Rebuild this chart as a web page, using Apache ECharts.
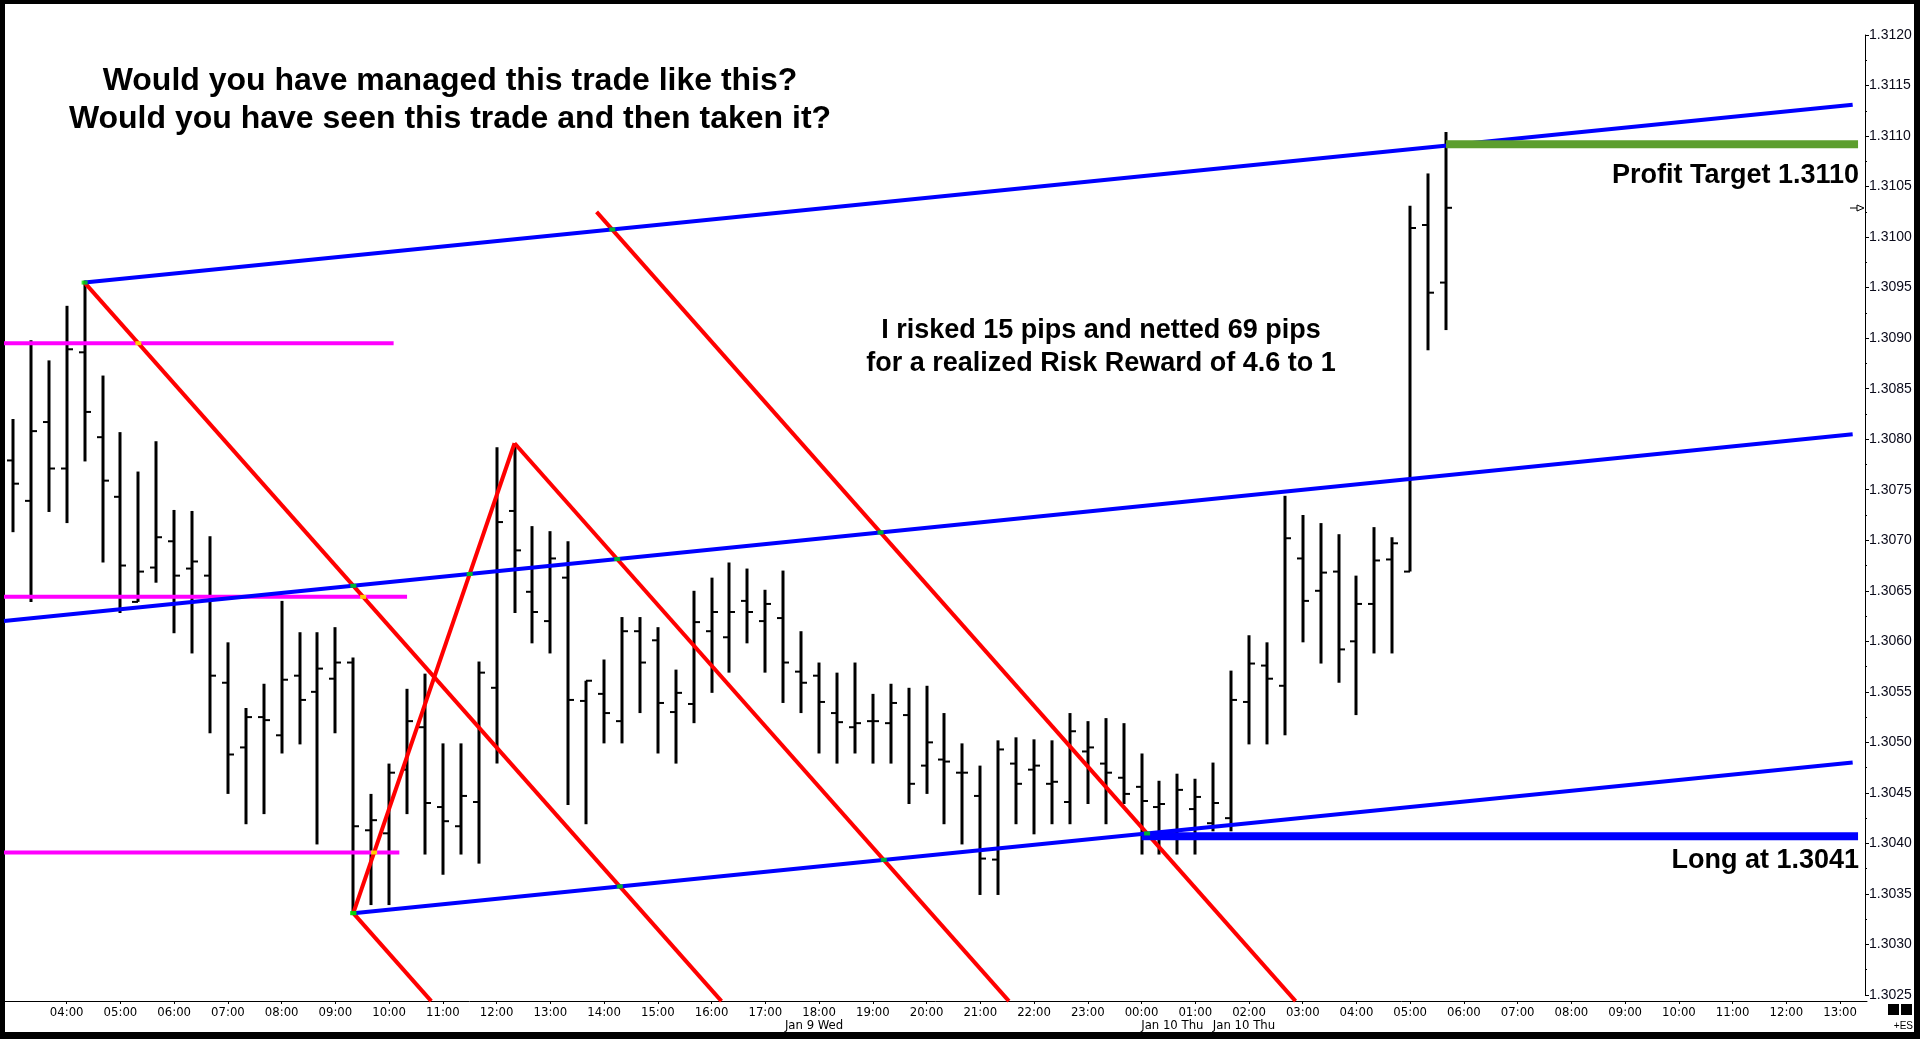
<!DOCTYPE html>
<html>
<head>
<meta charset="utf-8">
<script src="https://cdn.jsdelivr.net/npm/echarts@6/dist/echarts.min.js"></script>
<style>
html,body{margin:0;padding:0;background:#000;overflow:hidden;}
#wrap{position:relative;width:1920px;height:1039px;background:#000;}
#paper{position:absolute;left:5px;top:4px;width:1909px;height:1028px;background:#fff;}
#c{position:absolute;left:0;top:0;width:1920px;height:1039px;}
</style>
</head>
<body>
<div id="wrap"><div id="paper"></div><div id="c"></div></div>
<script>
// ---- categories: 20-minute bars, Jan 9 03:00 .. Jan 10 13:20 ----
const times = ("03:00 03:20 03:40 04:00 04:20 04:40 05:00 05:20 05:40 06:00 06:20 06:40 07:00 07:20 07:40 " +
  "08:00 08:20 08:40 09:00 09:20 09:40 10:00 10:20 10:40 11:00 11:20 11:40 12:00 12:20 12:40 13:00 13:20 13:40 " +
  "14:00 14:20 14:40 15:00 15:20 15:40 16:00 16:20 16:40 17:00 17:20 17:40 18:00 18:20 18:40 19:00 19:20 19:40 " +
  "20:00 20:20 20:40 21:00 21:20 21:40 22:00 22:20 22:40 23:00 23:20 23:40 " +
  "00:00 00:20 00:40 01:00 01:20 01:40 02:00 02:20 02:40 03:00 03:20 03:40 04:00 04:20 04:40 05:00 05:20 05:40 " +
  "06:00 06:20 06:40 07:00 07:20 07:40 08:00 08:20 08:40 09:00 09:20 09:40 10:00 10:20 10:40 11:00 11:20 11:40 " +
  "12:00 12:20 12:40 13:00 13:20").split(' ');
const dateLabelIndex = [45, 65, 69];
const dateLabelText = ['Jan 9 Wed', 'Jan 10 Thu', 'Jan 10 Thu'];

// ---- OHLC values ----
const opens = [1.30779,1.30739,1.30817,1.30771,1.30886,1.30802,1.30743,1.30639,1.30673,1.30699,
  1.30672,1.30665,1.30559,1.30495,1.30525,1.30507,1.30566,1.30550,1.30563,1.30579,
  1.30413,1.30410,1.30473,1.30515,1.30436,1.30417,1.30441,1.30554,1.30729,1.30649,
  1.30620,1.30663,1.30541,1.30548,1.30521,1.30610,1.30601,1.30530,1.30538,1.30610,
  1.30604,1.30640,1.30620,1.30623,1.30570,1.30566,1.30529,1.30515,1.30521,1.30519,
  1.30527,1.30477,1.30483,1.30470,1.30447,1.30384,1.30479,1.30473,1.30459,1.30441,
  1.30491,1.30479,1.30465,1.30456,1.30436,1.30410,1.30434,1.30420,1.30425,1.30540,
  1.30576,1.30556,1.30682,1.30650,1.30669,1.30600,1.30637,1.30681,1.30669,1.31012,1.30955];
const highs = [1.30820,1.30898,1.30878,1.30932,1.30957,1.30863,1.30807,1.30768,1.30798,1.30730,
  1.30729,1.30704,1.30599,1.30534,1.30558,1.30640,1.30609,1.30609,1.30614,1.30584,
  1.30449,1.30479,1.30553,1.30568,1.30499,1.30499,1.30580,1.30792,1.30796,1.30714,
  1.30709,1.30699,1.30561,1.30582,1.30624,1.30624,1.30614,1.30572,1.30650,1.30663,
  1.30678,1.30672,1.30651,1.30670,1.30610,1.30579,1.30569,1.30579,1.30548,1.30558,
  1.30554,1.30556,1.30529,1.30499,1.30477,1.30502,1.30505,1.30503,1.30502,1.30529,
  1.30521,1.30524,1.30519,1.30489,1.30462,1.30469,1.30464,1.30480,1.30571,1.30606,
  1.30599,1.30744,1.30725,1.30717,1.30706,1.30665,1.30713,1.30703,1.31031,1.31063,1.31104];
const lows = [1.30708,1.30639,1.30728,1.30717,1.30778,1.30678,1.30628,1.30639,1.30658,1.30608,
  1.30588,1.30509,1.30449,1.30419,1.30429,1.30489,1.30498,1.30399,1.30509,1.30331,
  1.30339,1.30339,1.30429,1.30389,1.30369,1.30389,1.30380,1.30479,1.30628,1.30598,
  1.30588,1.30438,1.30419,1.30499,1.30499,1.30529,1.30489,1.30479,1.30519,1.30549,
  1.30569,1.30598,1.30569,1.30539,1.30529,1.30489,1.30479,1.30489,1.30479,1.30479,
  1.30439,1.30449,1.30419,1.30399,1.30349,1.30349,1.30419,1.30409,1.30419,1.30419,
  1.30439,1.30419,1.30439,1.30389,1.30389,1.30389,1.30389,1.30412,1.30412,1.30498,
  1.30498,1.30507,1.30599,1.30578,1.30559,1.30527,1.30588,1.30588,1.30669,1.30888,1.30908];
const closes = [1.30756,1.30808,1.30771,1.30889,1.30827,1.30759,1.30675,1.30669,1.30703,1.30665,
  1.30679,1.30566,1.30488,1.30525,1.30522,1.30562,1.30542,1.30573,1.30579,1.30417,
  1.30423,1.30470,1.30521,1.30440,1.30422,1.30447,1.30569,1.30718,1.30690,1.30629,
  1.30682,1.30542,1.30561,1.30529,1.30610,1.30579,1.30539,1.30549,1.30619,1.30629,
  1.30629,1.30629,1.30637,1.30579,1.30559,1.30540,1.30520,1.30519,1.30521,1.30539,
  1.30459,1.30500,1.30481,1.30470,1.30385,1.30493,1.30459,1.30477,1.30461,1.30511,
  1.30495,1.30470,1.30449,1.30442,1.30439,1.30453,1.30446,1.30440,1.30542,1.30578,
  1.30563,1.30702,1.30640,1.30668,1.30592,1.30637,1.30680,1.30697,1.31009,1.30945,1.31029];

// ---- drawn lines: [bar index, price] ----
const channelUpper  = [[4, 1.30955], [102.7, 1.31131]];
const channelMiddle = [[-0.5, 1.30620], [102.7, 1.30805]];
const channelLower  = [[19, 1.30331], [102.7, 1.30480]];
const redA  = [[4, 1.30955], [39.55, 1.30244]];
const redB  = [[28, 1.30796], [55.6, 1.30244]];
const redC  = [[19, 1.30331], [23.35, 1.30244]];
const redD  = [[32.58, 1.31025], [71.6, 1.30244]];
const rally = [[19, 1.30331], [28, 1.30796]];
const magentaHigh = [[-0.5, 1.30895], [21.25, 1.30895]];
const magentaMid  = [[-0.5, 1.30644], [22.0, 1.30644]];
const magentaLow  = [[-0.5, 1.30391], [21.57, 1.30391]];
const entryLine   = [[63, 1.30407], [103, 1.30407]];
const targetLine  = [[80, 1.31092], [103, 1.31092]];

// ---- texts ----
const titleLines = ['Would you have managed this trade like this?', 'Would you have seen this trade and then taken it?'];
const noteLines = ['I risked 15 pips and netted 69 pips', 'for a realized Risk Reward of 4.6 to 1'];
const targetText = 'Profit Target 1.3110';
const entryText = 'Long at 1.3041';

const ohlc = opens.map((o, i) => [i, o, highs[i], lows[i], closes[i]]);
const lastBar = [[ohlc.length - 1, closes[closes.length - 1]]];

// crossing marks where the drawn lines overlap (computed from the segments above)
function crossing(a, b) {
  const [[x1, y1], [x2, y2]] = a, [[x3, y3], [x4, y4]] = b;
  const sx = 1, sy = 10000; // pips scale for a well-conditioned solve
  const ax = x2 - x1, ay = (y2 - y1) * sy, bx = x4 - x3, by = (y4 - y3) * sy;
  const d = ax * by - ay * bx;
  if (Math.abs(d) < 1e-12) return null;
  const cx = x3 - x1, cy = (y3 - y1) * sy;
  const t = (cx * by - cy * bx) / d, u = (cx * ay - cy * ax) / d;
  if (t < 0 || t > 1 || u < 0 || u > 1) return null;
  return [x1 + t * ax * sx, y1 + t * (y2 - y1)];
}
const reds = [redA, redB, redC, redD, rally];
const blues = [channelUpper, channelMiddle, channelLower];
const magentas = [magentaHigh, magentaMid, magentaLow];
const greenMarks = [], yellowMarks = [];
reds.forEach(r => {
  blues.forEach(b => { const p = crossing(r, b); if (p) greenMarks.push(p); });
  magentas.forEach(m => { const p = crossing(r, m); if (p) yellowMarks.push(p); });
});

const SANS = '"Liberation Sans", Arial, sans-serif';
const NARROW = '"Liberation Sans Narrow", "Arial Narrow", "DejaVu Sans Condensed", sans-serif';

function lineSeries(data, color, width, z) {
  return {
    type: 'line', xAxisIndex: 2, yAxisIndex: 0, data: data,
    symbol: 'none', clip: false, silent: true, z: z || 5,
    lineStyle: { color: color, width: width, cap: 'butt' },
    emphasis: { disabled: true }
  };
}
function markSeries(data, color) {
  return {
    type: 'scatter', xAxisIndex: 2, yAxisIndex: 0, data: data, z: 8, silent: true,
    symbol: 'rect', symbolSize: [6, 4], itemStyle: { color: color }, emphasis: { disabled: true }
  };
}

const chart = echarts.init(document.getElementById('c'), null, { renderer: 'canvas' });
const option = {
  backgroundColor: 'transparent',
  animation: false,
  grid: { left: 4, right: 53, top: 35, bottom: 44 },
  xAxis: [
    {
      type: 'category', data: times, boundaryGap: true, position: 'bottom', offset: 6,
      axisLine: { show: true, onZero: false, lineStyle: { color: '#000', width: 1 } },
      axisTick: { show: true, alignWithLabel: true, length: 3,
        interval: (i, v) => i > 0 && v.endsWith(':00'), lineStyle: { color: '#000' } },
      axisLabel: { interval: (i, v) => i > 0 && v.endsWith(':00'), color: '#000',
        fontFamily: NARROW, fontSize: 13, margin: 5 },
      splitLine: { show: false }
    },
    {
      type: 'category', data: times, boundaryGap: true, position: 'bottom', offset: 19,
      axisLine: { show: false, onZero: false }, axisTick: { show: false }, splitLine: { show: false },
      axisLabel: { interval: 0, color: '#000', fontFamily: NARROW, fontSize: 13, margin: 5,
        padding: [0, 10, 0, 0],
        formatter: (v, i) => { const k = dateLabelIndex.indexOf(i); return k >= 0 ? dateLabelText[k] : ''; } }
    },
    { type: 'value', min: -0.5, max: 103.5, show: false, axisLine: { onZero: false } }
  ],
  yAxis: {
    type: 'value', position: 'right', offset: -2, min: 1.3025, max: 1.3120, interval: 0.0005,
    axisLine: { show: true, onZero: false, lineStyle: { color: '#000', width: 1 } },
    axisTick: { show: true, length: 4, lineStyle: { color: '#000' } },
    minorTick: { show: true, splitNumber: 2, length: 2, lineStyle: { color: '#000' } },
    splitLine: { show: false },
    axisLabel: { formatter: v => v.toFixed(4), fontSize: 14, color: '#0a0a1a', margin: 4,
      padding: [7, 0, 0, 0], fontFamily: SANS }
  },
  graphic: [
    { type: 'text', x: 450, y: 81, silent: true, style: { text: titleLines[0], fontFamily: SANS, fontWeight: 'bold', fontSize: 32, fill: '#000', align: 'center', verticalAlign: 'middle' } },
    { type: 'text', x: 450, y: 119, silent: true, style: { text: titleLines[1], fontFamily: SANS, fontWeight: 'bold', fontSize: 32, fill: '#000', align: 'center', verticalAlign: 'middle' } },
    { type: 'text', x: 1101, y: 331, silent: true, style: { text: noteLines[0], fontFamily: SANS, fontWeight: 'bold', fontSize: 27, fill: '#000', align: 'center', verticalAlign: 'middle' } },
    { type: 'text', x: 1101, y: 364, silent: true, style: { text: noteLines[1], fontFamily: SANS, fontWeight: 'bold', fontSize: 27, fill: '#000', align: 'center', verticalAlign: 'middle' } },
    { type: 'text', x: 1859, y: 176, silent: true, style: { text: targetText, fontFamily: SANS, fontWeight: 'bold', fontSize: 27, fill: '#000', align: 'right', verticalAlign: 'middle' } },
    { type: 'text', x: 1859, y: 861, silent: true, style: { text: entryText, fontFamily: SANS, fontWeight: 'bold', fontSize: 27, fill: '#000', align: 'right', verticalAlign: 'middle' } },
    { type: 'rect', x: 1888, y: 1004, shape: { width: 11, height: 11 }, style: { fill: '#000' }, silent: true },
    { type: 'rect', x: 1901, y: 1004, shape: { width: 11, height: 11 }, style: { fill: '#000' }, silent: true },
    { type: 'text', x: 1913, y: 1026, silent: true, style: { text: '+ES', fontFamily: SANS, fontSize: 10, fill: '#000', align: 'right', verticalAlign: 'middle' } }
  ],
  series: [
    {
      type: 'custom', name: 'EURUSD', xAxisIndex: 0, yAxisIndex: 0, data: ohlc, z: 4, silent: true,
      encode: { x: 0, y: [1, 2, 3, 4] },
      renderItem: function (params, api) {
        const i = api.value(0);
        const pH = api.coord([i, api.value(2)]);
        const pL = api.coord([i, api.value(3)]);
        const yO = api.coord([i, api.value(1)])[1];
        const yC = api.coord([i, api.value(4)])[1];
        const x = Math.round(pH[0]);
        return {
          type: 'group', children: [
            { type: 'line', shape: { x1: x, y1: pH[1], x2: x, y2: pL[1] }, style: { stroke: '#000', lineWidth: 3 } },
            { type: 'line', shape: { x1: x - 6, y1: yO, x2: x, y2: yO }, style: { stroke: '#000', lineWidth: 2 } },
            { type: 'line', shape: { x1: x, y1: yC, x2: x + 6, y2: yC }, style: { stroke: '#000', lineWidth: 2 } }
          ]
        };
      }
    },
    lineSeries(magentaHigh, '#ff00ff', 4, 5),
    lineSeries(magentaMid, '#ff00ff', 4, 5),
    lineSeries(magentaLow, '#ff00ff', 4, 5),
    lineSeries(redA, '#ff0000', 4, 6),
    lineSeries(redB, '#ff0000', 4, 6),
    lineSeries(redC, '#ff0000', 4, 6),
    lineSeries(redD, '#ff0000', 4, 6),
    lineSeries(rally, '#ff0000', 4, 6),
    lineSeries(channelUpper, '#0000ff', 4, 7),
    lineSeries(channelMiddle, '#0000ff', 4, 7),
    lineSeries(channelLower, '#0000ff', 4, 7),
    lineSeries(entryLine, '#0000ff', 8, 8),
    lineSeries(targetLine, '#5c9e2e', 8, 8),
    markSeries(greenMarks, '#00e000'),
    markSeries(yellowMarks, '#ffff00'),
    {
      type: 'custom', name: 'last', xAxisIndex: 0, yAxisIndex: 0, data: lastBar, z: 9, silent: true,
      renderItem: function (params, api) {
        const y = Math.round(api.coord([api.value(0), api.value(1)])[1]);
        const xr = params.coordSys.x + params.coordSys.width - 2;
        return {
          type: 'group', children: [
            { type: 'line', shape: { x1: xr - 15, y1: y, x2: xr - 8, y2: y }, style: { stroke: '#000', lineWidth: 1 } },
            { type: 'polygon', shape: { points: [[xr - 8, y - 3], [xr - 1, y], [xr - 8, y + 3]] }, style: { fill: '#fff', stroke: '#000', lineWidth: 1 } }
          ]
        };
      }
    }
  ]
};
chart.setOption(option);
</script>
</body>
</html>
